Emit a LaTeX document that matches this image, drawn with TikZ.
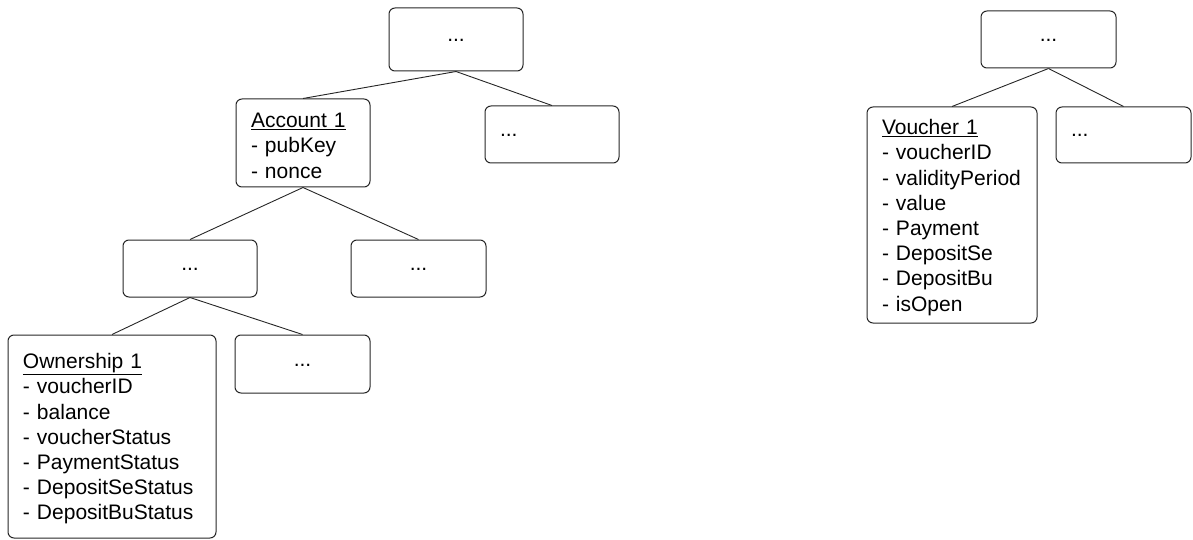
\documentclass[tikz,border=0pt]{standalone}
\usepackage{fontspec}
\setmainfont{Liberation Sans}
\newcommand{\topfix}{\rule{0pt}{20pt}}
\begin{document}
\begin{tikzpicture}[x=1pt,y=-1pt,
  box/.style={draw=black!85, line width=1pt, rounded corners=6pt, inner sep=0pt,
              font=\fontsize{21}{25.2}\selectfont},
  cbox/.style={box, align=center, text height=0.7em, text depth=0.3em},
  lbox/.style={box, align=left, inner xsep=15pt},
  dbox/.style={lbox, text height=0.7em, text depth=0.3em},
  link/.style={draw=black!85, line width=0.9pt}]
\useasboundingbox (0,0) rectangle (1193,540);
% left tree
\node[cbox, minimum width=134pt, minimum height=63pt] (top) at (456,39.5) {...};
\node[lbox, text width=104pt, minimum height=88pt] (acc) at (303,143)
  {\topfix\underline{Account 1}\\- pubKey\\- nonce};
\node[dbox, text width=104pt, minimum height=57pt] (r1) at (552,134.5) {...};
\node[cbox, minimum width=134pt, minimum height=57pt] (ml) at (190,268.5) {...};
\node[cbox, minimum width=135pt, minimum height=57pt] (mr) at (418.5,268.5) {...};
\node[lbox, text width=178pt, minimum height=203pt] (own) at (112,436.5)
  {\topfix\underline{Ownership 1}\\- voucherID\\- balance\\- voucherStatus\\- PaymentStatus\\- DepositSeStatus\\- DepositBuStatus};
\node[cbox, minimum width=135pt, minimum height=58pt] (os) at (302.5,364) {...};
% right tree
\node[cbox, minimum width=135pt, minimum height=57pt] (vtop) at (1048.5,39.5) {...};
\node[lbox, text width=140pt, minimum height=216pt] (v1) at (952,215)
  {\topfix\underline{Voucher 1}\\- voucherID\\- validityPeriod\\- value\\- Payment\\- DepositSe\\- DepositBu\\- isOpen};
\node[dbox, text width=105pt, minimum height=56pt] (vr) at (1123.5,135) {...};
% connectors
\draw[link] (top.south) -- (acc.north);
\draw[link] (top.south) -- (r1.north);
\draw[link] (acc.south) -- (ml.north);
\draw[link] (acc.south) -- (mr.north);
\draw[link] (ml.south) -- (own.north);
\draw[link] (ml.south) -- (os.north);
\draw[link] (vtop.south) -- (v1.north);
\draw[link] (vtop.south) -- (vr.north);
\end{tikzpicture}
\end{document}
